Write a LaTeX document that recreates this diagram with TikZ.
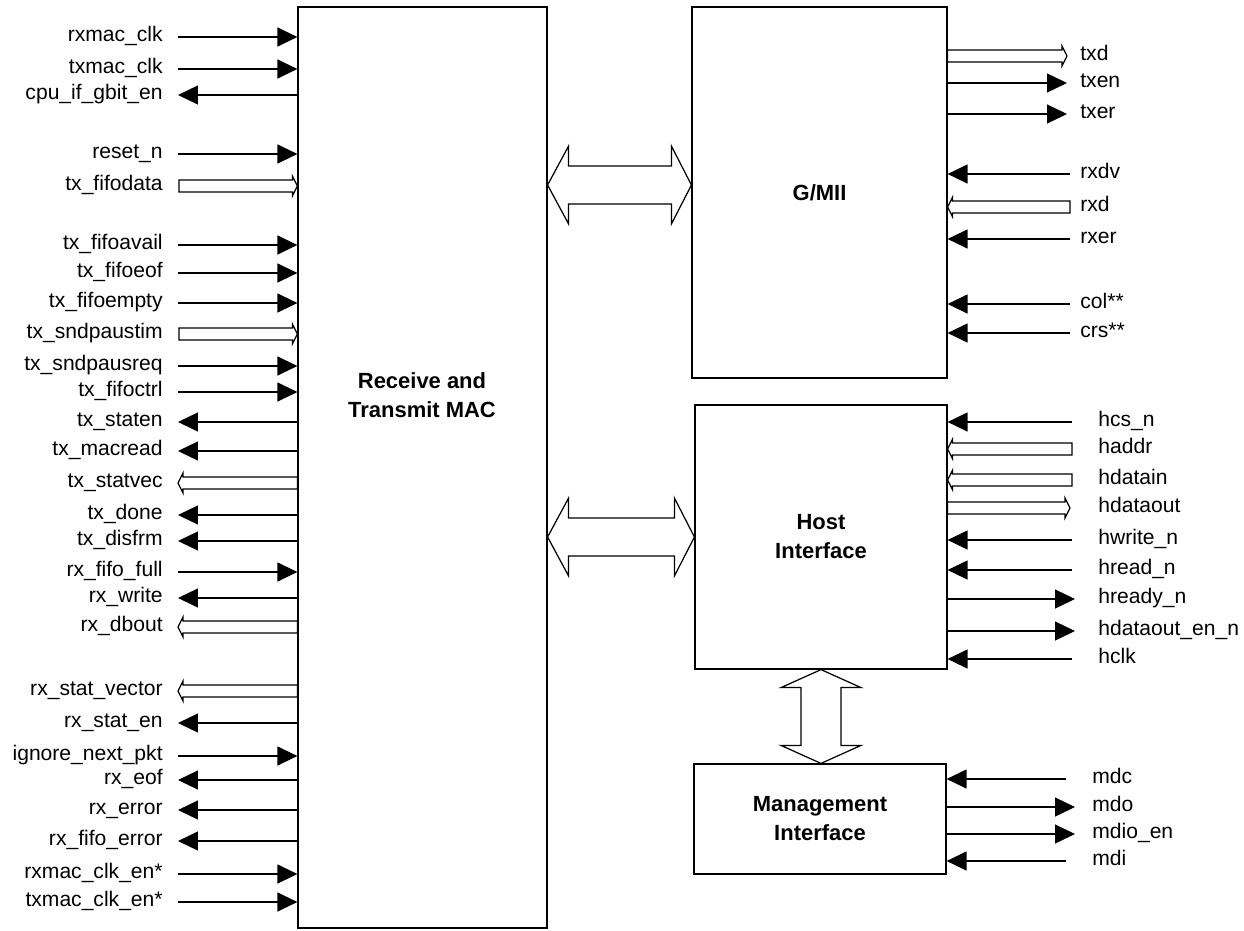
\documentclass[tikz,border=0pt]{standalone}
\usepackage{fontspec}
\setmainfont{Liberation Sans}
\usetikzlibrary{arrows.meta,calc,positioning}
\tikzset{
  blk/.style={draw, line width=0.7pt, align=center, font=\fontsize{12.5}{16.5}\selectfont\bfseries},
  sig/.style={font=\fontsize{12}{14}\selectfont, inner sep=0pt},
  wire/.style={line width=0.7pt, -{Triangle[length=0.4cm,width=0.38cm]}},
  busline/.style={line width=0.7pt, fill=white},
  bigarrow/.style={line width=0.7pt, fill=white},
}
% hollow bus arrow: #1 start, #2 tip, #3 head offset
\newcommand{\bus}[3]{\draw[busline] ($(#1)+(0,-6)$) -- ($(#2)+(#3,-6)$) -- ($(#2)+(#3,-10)$) -- (#2)
  -- ($(#2)+(#3,10)$) -- ($(#2)+(#3,6)$) -- ($(#1)+(0,6)$) -- cycle;}

\begin{document}
\begin{tikzpicture}[x=0.02cm, y=-0.02cm]
  \useasboundingbox (0,0) rectangle (1244,930);

  % Receive and Transmit MAC (left)
  \node[blk, minimum width=4.98cm, minimum height=18.42cm] (mac) at (422.5,467.5) {};
  \node[blk, draw=none] (mactitle) at (422,395) {Receive and\\Transmit MAC};

  % G/MII, host and management blocks (right)
  \node[blk, minimum width=5.1cm, minimum height=7.42cm] (gmii) at (819.5,192.5) {G/MII};
  \node[blk, minimum width=5.04cm, minimum height=5.28cm] (host) at (821,537) {Host\\Interface};
  \node[blk, minimum width=5.04cm, minimum height=2.2cm] (mgmt) at (820,819) {Management\\Interface};

  % MAC inputs
  \foreach \y/\lab/\nm in {37/rxmac\_clk/rxclk, 69/txmac\_clk/txclk, 154/reset\_n/rstn,
      245/tx\_fifoavail/fifoavail, 273/tx\_fifoeof/fifoeof, 303/tx\_fifoempty/fifoempty,
      366/tx\_sndpausreq/pausreq, 392/tx\_fifoctrl/fifoctrl, 572/rx\_fifo\_full/fifofull,
      756/ignore\_next\_pkt/ignpkt, 874/rxmac\_clk\_en*/rxclken, 902/txmac\_clk\_en*/txclken}{
    \node[sig, anchor=base east] (\nm) at (163,\y+4) {\lab};
    \coordinate (s\nm) at (178,\y);
    \draw[wire] (s\nm) -- (s\nm -| mac.west);
  }
  % MAC outputs
  \foreach \y/\lab/\nm in {95/cpu\_if\_gbit\_en/gbiten, 422/tx\_staten/staten, 451/tx\_macread/macread,
      515/tx\_done/txdone, 541/tx\_disfrm/disfrm, 598/rx\_write/rxwrite, 723/rx\_stat\_en/statEn,
      780/rx\_eof/rxeof, 810/rx\_error/rxerror, 841/rx\_fifo\_error/fifoerror}{
    \node[sig, anchor=base east] (\nm) at (163,\y+4) {\lab};
    \coordinate (s\nm) at (178,\y);
    \draw[wire] (s\nm -| mac.west) -- (s\nm);
  }
  % MAC buses
  \foreach \y/\lab/\nm in {186/tx\_fifodata/fifodata, 334/tx\_sndpaustim/paustim}{
    \node[sig, anchor=base east] (\nm) at (163,\y+4) {\lab};
    \coordinate (s\nm) at (179,\y);
    \coordinate (t\nm) at (s\nm -| mac.west);
    \bus{s\nm}{t\nm}{-5}
  }
  \foreach \y/\lab/\nm in {483/tx\_statvec/statvec, 627/rx\_dbout/dbout, 691/rx\_stat\_vector/statvector}{
    \node[sig, anchor=base east] (\nm) at (163,\y+4) {\lab};
    \coordinate (t\nm) at (178,\y);
    \coordinate (s\nm) at (t\nm -| mac.west);
    \bus{s\nm}{t\nm}{5}
  }

  % G/MII pins
  \foreach \y/\lab/\nm in {83/txen/txen, 114/txer/txer}{
    \node[sig, anchor=base west] (\nm) at (1080,\y+4) {\lab};
    \coordinate (t\nm) at (1067,\y);
    \draw[wire] (t\nm -| gmii.east) -- (t\nm);
  }
  \foreach \y/\lab/\nm in {174/rxdv/rxdv, 239/rxer/rxer, 304/col**/col, 333/crs**/crs}{
    \node[sig, anchor=base west] (\nm) at (1080,\y+4) {\lab};
    \coordinate (s\nm) at (1070,\y);
    \draw[wire] (s\nm) -- (s\nm -| gmii.east);
  }
  \node[sig, anchor=base west] (txd) at (1080,60) {txd};
  \coordinate (ttxd) at (1067,56);
  \coordinate (stxd) at (ttxd -| gmii.east);
  \bus{stxd}{ttxd}{-5}
  \node[sig, anchor=base west] (rxd) at (1080,211) {rxd};
  \coordinate (srxd) at (1070,207);
  \coordinate (trxd) at (srxd -| gmii.east);
  \bus{srxd}{trxd}{5}

  % Host interface pins
  \foreach \y/\lab/\nm in {422/hcs\_n/hcsn, 540/hwrite\_n/hwriten, 570/hread\_n/hreadn, 659/hclk/hclk}{
    \node[sig, anchor=base west] (\nm) at (1098,\y+4) {\lab};
    \coordinate (s\nm) at (1072,\y);
    \draw[wire] (s\nm) -- (s\nm -| host.east);
  }
  \foreach \y/\lab/\nm in {599/hready\_n/hreadyn, 631/hdataout\_en\_n/hdoen}{
    \node[sig, anchor=base west] (\nm) at (1098,\y+4) {\lab};
    \coordinate (t\nm) at (1075,\y);
    \draw[wire] (t\nm -| host.east) -- (t\nm);
  }
  \foreach \y/\lab/\nm in {449/haddr/haddr, 480/hdatain/hdatain}{
    \node[sig, anchor=base west] (\nm) at (1098,\y+4) {\lab};
    \coordinate (s\nm) at (1072,\y);
    \coordinate (t\nm) at (s\nm -| host.east);
    \bus{s\nm}{t\nm}{5}
  }
  \node[sig, anchor=base west] (hdataout) at (1098,512) {hdataout};
  \coordinate (thdataout) at (1070,508);
  \coordinate (shdataout) at (thdataout -| host.east);
  \bus{shdataout}{thdataout}{-5}

  % Management interface pins
  \foreach \y/\lab/\nm in {779/mdc/mdc, 861/mdi/mdi}{
    \node[sig, anchor=base west] (\nm) at (1092,\y+4) {\lab};
    \coordinate (s\nm) at (1066,\y);
    \draw[wire] (s\nm) -- (s\nm -| mgmt.east);
  }
  \foreach \y/\lab/\nm in {807/mdo/mdo, 834/mdio\_en/mdioen}{
    \node[sig, anchor=base west] (\nm) at (1092,\y+4) {\lab};
    \coordinate (t\nm) at (1075,\y);
    \draw[wire] (t\nm -| mgmt.east) -- (t\nm);
  }

  % MAC <-> G/MII
  \coordinate (ga) at (mac.east |- 0,185);
  \coordinate (gb) at (gmii.west |- 0,185);
  \draw[bigarrow] (ga) -- ($(ga)+(21,-39)$) -- ($(ga)+(21,-19)$) -- ($(gb)+(-20,-19)$) -- ($(gb)+(-20,-39)$)
    -- (gb) -- ($(gb)+(-20,39)$) -- ($(gb)+(-20,19)$) -- ($(ga)+(21,19)$) -- ($(ga)+(21,39)$) -- cycle;

  % MAC <-> host
  \coordinate (ha) at (mac.east |- host.west);
  \draw[bigarrow] (ha) -- ($(ha)+(21,-39)$) -- ($(ha)+(21,-19)$) -- ($(host.west)+(-20,-19)$) -- ($(host.west)+(-20,-39)$)
    -- (host.west) -- ($(host.west)+(-20,39)$) -- ($(host.west)+(-20,19)$) -- ($(ha)+(21,19)$) -- ($(ha)+(21,39)$) -- cycle;

  % host <-> management
  \coordinate (ma) at (host.south |- mgmt.north);
  \draw[bigarrow] (host.south) -- ($(host.south)+(-40,18)$) -- ($(host.south)+(-20,18)$) -- ($(ma)+(-20,-18)$) -- ($(ma)+(-40,-18)$)
    -- (ma) -- ($(ma)+(40,-18)$) -- ($(ma)+(20,-18)$) -- ($(host.south)+(20,18)$) -- ($(host.south)+(40,18)$) -- cycle;
\end{tikzpicture}
\end{document}
